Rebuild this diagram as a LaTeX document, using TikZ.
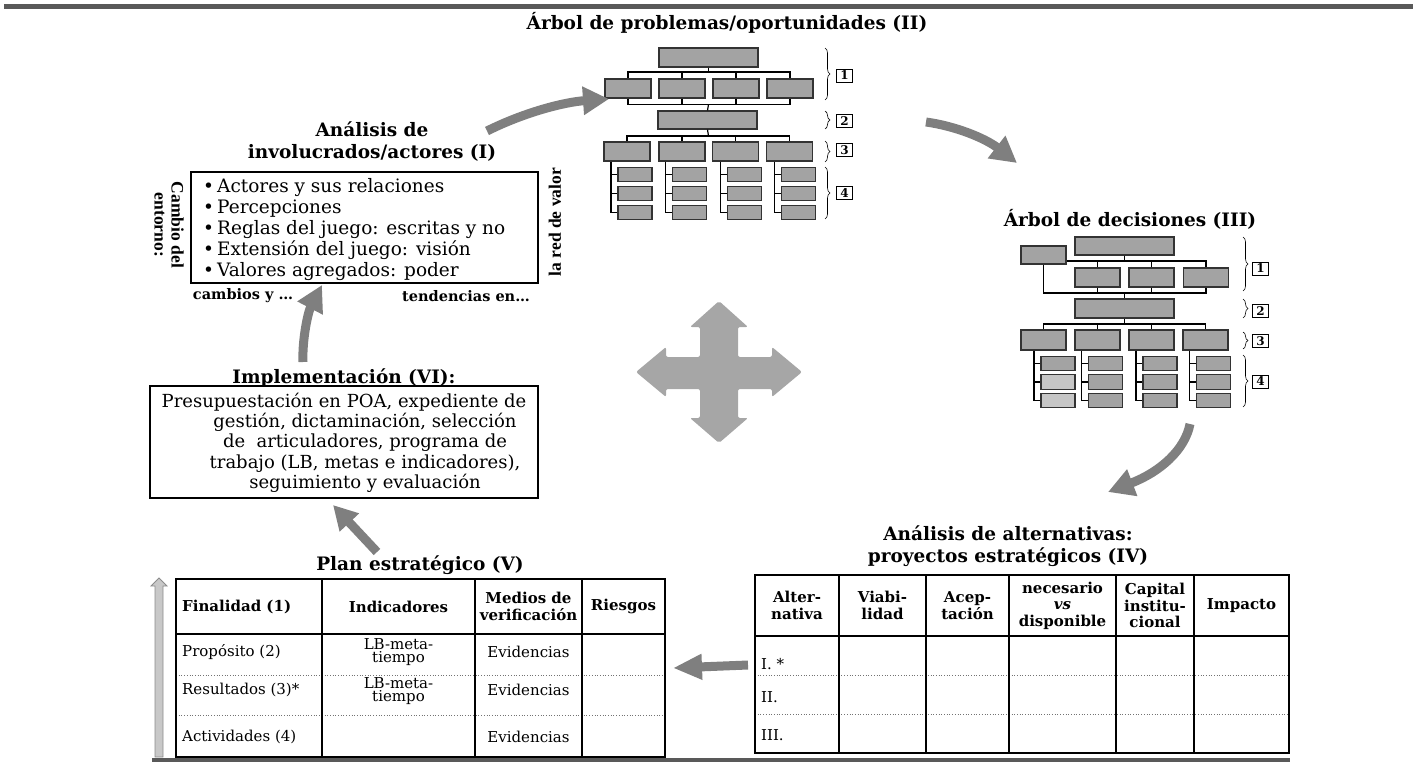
\documentclass[tikz,border=0pt]{standalone}
\usepackage{fontspec}
\setmainfont{DejaVu Serif}
\newfontfamily\rotfont{Liberation Serif}
\usetikzlibrary{arrows.meta,decorations.pathreplacing,calc}
\definecolor{boxgray}{HTML}{A3A3A3}
\definecolor{boxlight}{HTML}{C6C6C6}
\definecolor{edgegray}{HTML}{333333}
\definecolor{arrowgray}{HTML}{7F7F7F}
\definecolor{crossgray}{HTML}{A6A6A6}
\definecolor{rulegray}{HTML}{595959}
\definecolor{upfill}{HTML}{C8C8C8}
\definecolor{upline}{HTML}{8C8C8C}
\newcommand\fsz[2]{\fontsize{#1}{#2}\selectfont}

\begin{document}
\begin{tikzpicture}[x=1pt,y=-1pt,
  tbox/.style={draw=edgegray, line width=1.1pt, fill=boxgray, inner sep=0pt,
               minimum width=46pt, minimum height=19pt},
  wide/.style={tbox, minimum width=99pt},
  leaf/.style={tbox, minimum width=34pt, minimum height=14.5pt},
  link/.style={draw=black, line width=1.2pt},
  brc/.style={decorate, decoration={brace, amplitude=5pt}, line width=0.6pt},
  lvl/.style={draw, line width=0.8pt, inner sep=0pt, minimum width=16pt,
              minimum height=13pt, font=\fsz{12}{12}\bfseries},
  flow/.style={draw=arrowgray, line width=9pt, -{Triangle[length=26pt,width=27pt]}},
  ttl/.style={font=\fsz{18.5}{22}\bfseries, align=center, inner sep=0pt},
  body/.style={font=\fsz{18.5}{21}, inner sep=0pt},
  note/.style={font=\fsz{14.5}{16}\bfseries, inner sep=0pt},
  vlab/.style={font=\rotfont\fsz{17.5}{17}\bfseries, align=center, inner sep=0pt},
  cell/.style={font=\fsz{15}{13.5}, inner sep=0pt, align=center},
  hcell/.style={cell, font=\fsz{15}{16.5}\bfseries},
  frame/.style={draw=black, line width=1.1pt, inner sep=0pt}
]
\useasboundingbox (0,0) rectangle (1413,762);

% horizontal rules
\fill[rulegray] (4,4) rectangle (1413,9);
\fill[rulegray] (152,758) rectangle (1290,762);

% ---------------- problem / opportunity tree (II) ----------------
\node[ttl] (tII) at (727,23) {Árbol de problemas/oportunidades (II)};
\node[wide] (p0) at (708.5,57.5) {};
\foreach \n/\x in {a/628,b/682,c/736,d/790}
  \node[tbox] (p1\n) at (\x,88.5) {};
\coordinate (pb1) at (708.5,72);
\coordinate (pmid) at (708.5,104.5);
\coordinate (pb3) at (708.5,136);
\node[wide, minimum height=18pt] (p2) at (707.5,120) {};
\foreach \n/\x in {a/627,b/682,c/735.5,d/789.5}
  \node[tbox] (p3\n) at (\x,151.5) {};
\draw[link] (p0.south) -- (pb1);
\draw[link] (p1a.north) |- (pb1) -| (p1d.north);
\draw[link] (p1b.north) -- (p1b.north |- pb1);
\draw[link] (p1c.north) -- (p1c.north |- pb1);
% bus joining the first level to the second
\coordinate (pma) at (628,104.5);
\coordinate (pmd) at (790,104.5);
\draw[link] (p1a.south) -- (pma) -- (pmd) -- (p1d.south);
\draw[link] (p1b.south) -- (p1b.south |- pmid);
\draw[link] (p1c.south) -- (p1c.south |- pmid);
\draw[link] (pmid) -- (p2.north);
\draw[link] (p2.south) -- (pb3);
\draw[link] (p3a.north) |- (pb3) -| (p3d.north);
\draw[link] (p3b.north) -- (p3b.north |- pb3);
\draw[link] (p3c.north) -- (p3c.north |- pb3);
\foreach \c/\x in {a/635,b/689.5,c/744.5,d/798.5}{
  \node[leaf] (p4\c1) at (\x,174.5) {};
  \node[leaf] (p4\c2) at (\x,193.5) {};
  \node[leaf] (p4\c3) at (\x,212.5) {};
  \coordinate (pv\c) at (\x-24,174.5);
  \draw[link] (pv\c |- p3\c.south) |- (p4\c3.west);
  \draw[link] (pv\c) -- (p4\c1.west);
  \draw[link] (pv\c |- p4\c2.west) -- (p4\c2.west);
}
\draw[brc] (825,48) -- (825,100);
\draw[brc] (825,111) -- (825,129);
\draw[brc] (825,141) -- (825,162);
\draw[brc] (825,167) -- (825,219);
\node[lvl] (pl1) at (844.5,75.5) {1};
\node[lvl] (pl2) at (844.5,121) {2};
\node[lvl] (pl3) at (844.5,150) {3};
\node[lvl] (pl4) at (844.5,193) {4};

% ---------------- decision tree (III) ----------------
\node[ttl] (tIII) at (1130,219) {Árbol de decisiones (III)};
\node[wide, minimum height=18pt] (q0) at (1124.5,246) {};
\node[tbox, minimum width=45pt, minimum height=18pt] (qL) at (1043.5,255) {};
\foreach \n/\x in {a/1097.5,b/1151.5,c/1206}
  \node[tbox, minimum width=45pt] (q1\n) at (\x,277.5) {};
\coordinate (qb1) at (1124.5,261);
\coordinate (qb2) at (1124.5,293);
\coordinate (qb3) at (1124.5,324);
\node[wide] (q2) at (1124.5,308.5) {};
\foreach \n/\x in {a/1043.5,b/1097.5,c/1151.5,d/1205.5}
  \node[tbox, minimum width=45pt, minimum height=20pt] (q3\n) at (\x,340) {};
\draw[link] (q0.south) -- (qb1);
\draw[link] (qL.east |- qb1) -| (q1c.north);
\draw[link] (q1a.north) -- (q1a.north |- qb1);
\draw[link] (q1b.north) -- (q1b.north |- qb1);
\draw[link] (qL.south) |- (qb2) -| (q1c.south);
\draw[link] (q1a.south) -- (q1a.south |- qb2);
\draw[link] (q1b.south) -- (q1b.south |- qb2);
\draw[link] (qb2) -- (q2.north);
\draw[link] (q2.south) -- (qb3);
\draw[link] (q3a.north) |- (qb3) -| (q3d.north);
\draw[link] (q3b.north) -- (q3b.north |- qb3);
\draw[link] (q3c.north) -- (q3c.north |- qb3);
\foreach \c/\x/\f in {a/1058/boxlight,b/1105.5/boxgray,c/1160/boxgray,d/1213.5/boxgray}{
  \node[leaf] (q4\c1) at (\x,363.5) {};
  \node[leaf, fill=\f] (q4\c2) at (\x,382) {};
  \node[leaf, fill=\f] (q4\c3) at (\x,400.5) {};
  \coordinate (qv\c) at (\x-24,363.5);
  \draw[link] (qv\c |- q3\c.south) |- (q4\c3.west);
  \draw[link] (qv\c) -- (q4\c1.west);
  \draw[link] (qv\c |- q4\c2.west) -- (q4\c2.west);
}
\draw[brc] (1243,237) -- (1243,291);
\draw[brc] (1243,299) -- (1243,318);
\draw[brc] (1243,332) -- (1243,349);
\draw[brc] (1243,355) -- (1243,407);
\node[lvl] (ql1) at (1260.5,268.5) {1};
\node[lvl] (ql2) at (1260.5,311) {2};
\node[lvl] (ql3) at (1260.5,341) {3};
\node[lvl] (ql4) at (1260.5,381.5) {4};

% ---------------- stakeholder analysis (I) ----------------
\node[ttl] (tI) at (372,142) {Análisis de\\involucrados/actores (I)};
\node[frame, minimum width=347pt, minimum height=111pt] (boxI) at (364.5,227.5) {};
\node[body, anchor=north west, align=left] (bul) at (203,178)
  {•\,Actores y sus relaciones\\•\,Percepciones\\•\,Reglas del juego: escritas y no\\
   •\,Extensión del juego: visión\\•\,Valores agregados: poder};
\node[vlab, rotate=-90] (cambio) at (169,225) {Cambio del\\entorno:};
\node[vlab, rotate=90] (red) at (555,222) {la red de valor};
\node[note] (cyl) at (243,296) {cambios y …};
\node[note] (ten) at (466,296) {tendencias en…};

% ---------------- implementation (VI) ----------------
\node[ttl] (tVI) at (344,378) {Implementación (VI):};
\node[frame, minimum width=388pt, minimum height=112pt] (boxVI) at (344,442) {};
\node[font=\fsz{18}{20.3}, align=center, inner sep=0pt] (impl) at (365,442.5)
  {Presupuestación en POA, expediente de\hspace*{42pt}\\
   gestión, dictaminación, selección\\
   de~~articuladores, programa de\\
   trabajo (LB, metas e indicadores),\\
   seguimiento y evaluación};

% ---------------- central cross ----------------
\fill[crossgray, rounded corners=2pt]
  (719,301) -- (748,327) -- (738,327) -- (738,357) -- (772,357) -- (772,347)
  -- (802,372) -- (772,397) -- (772,389) -- (738,389) -- (738,418) -- (748,418)
  -- (719,443) -- (690,418) -- (700,418) -- (700,389) -- (666,389) -- (666,397)
  -- (636,372) -- (666,347) -- (666,357) -- (700,357) -- (700,327) -- (690,327)
  -- cycle;

% ---------------- strategic plan (V) ----------------
\node[ttl] (tV) at (420,565) {Plan estratégico (V)};
\filldraw[fill=upfill, draw=upline, line width=0.8pt]
  (155,757) -- (155,586) -- (151,586) -- (159,578) -- (167,586) -- (163,586)
  -- (163,757) -- cycle;
\draw[line width=1.1pt] (176,634) -- (665,634);
\draw[dotted, line width=0.7pt, black!55] (176,675) -- (665,675);
\draw[dotted, line width=0.7pt, black!55] (176,715) -- (665,715);
\foreach \x in {322,475,582}
  \draw[line width=1.5pt] (\x,579) -- (\x,757);
\draw[line width=1.8pt] (176,579) rectangle (665,757);
\node[hcell, anchor=west] (vh1) at (182,606.5) {Finalidad (1)};
\node[hcell] (vh2) at (398.5,606.5) {Indicadores};
\node[hcell] (vh3) at (528.5,606.5) {Medios de\\verificación};
\node[hcell] (vh4) at (623.5,606.5) {Riesgos};
\node[cell, anchor=west] (vr1) at (182,652) {Propósito (2)};
\node[cell] (vi1) at (398.5,652) {LB-meta-\\tiempo};
\node[cell] (ve1) at (528.5,652) {Evidencias};
\node[cell, anchor=west] (vr2) at (182,690) {Resultados (3)*};
\node[cell] (vi2) at (398.5,691) {LB-meta-\\tiempo};
\node[cell] (ve2) at (528.5,690) {Evidencias};
\node[cell, anchor=west] (vr3) at (182,737) {Actividades (4)};
\node[cell] (ve3) at (528.5,737) {Evidencias};

% ---------------- alternatives (IV) ----------------
\node[ttl] (tIV) at (1008,546.5) {Análisis de alternativas:\\proyectos estratégicos (IV)};
\draw[line width=1.1pt] (755,636) -- (1289,636);
\draw[dotted, line width=0.7pt, black!55] (755,675) -- (1289,675);
\draw[dotted, line width=0.7pt, black!55] (755,714) -- (1289,714);
\foreach \x in {839,926,1009,1116,1194}
  \draw[line width=1.5pt] (\x,575) -- (\x,753);
\draw[line width=1.8pt] (755,575) rectangle (1289,753);
\node[hcell] (ah1) at (797,605.5) {Alter-\\nativa};
\node[hcell] (ah2) at (882.5,605.5) {Viabi-\\lidad};
\node[hcell] (ah3) at (967.5,605.5) {Acep-\\tación};
\node[hcell] (ah4) at (1062.5,605.5) {necesario\\\textit{vs}\\disponible};
\node[hcell] (ah5) at (1155,605.5) {Capital\\institu-\\cional};
\node[hcell] (ah6) at (1241.5,605.5) {Impacto};
\node[cell, anchor=west] (ar1) at (761,664) {I. *};
\node[cell, anchor=west] (ar2) at (761,697) {II.};
\node[cell, anchor=west] (ar3) at (761,735) {III.};

% ---------------- cycle arrows ----------------
\coordinate (a1s) at (487,131);  \coordinate (a1e) at (609,99);
\coordinate (a2s) at (926,122);  \coordinate (a2e) at (1017,163);
\coordinate (a3s) at (1190,424); \coordinate (a3e) at (1108,492);
\coordinate (a4s) at (748,665);  \coordinate (a4e) at (673,668);
\coordinate (a5s) at (377,552);  \coordinate (a5e) at (333,505);
\coordinate (a6s) at (303,362);  \coordinate (a6e) at (322,285);
\draw[flow] (a1s) .. controls (525,112) and (565,102) .. (a1e);
\draw[flow] (a2s) .. controls (955,126) and (985,138) .. (a2e);
\draw[flow] (a3s) .. controls (1185,450) and (1160,472) .. (a3e);
\draw[flow, -{Triangle[length=29pt,width=24pt]}] (a4s) -- (a4e);
\draw[flow, -{Triangle[length=24pt,width=25pt]}] (a5s) -- (a5e);
\draw[flow] (a6s) .. controls (302,340) and (308,312) .. (a6e);
\end{tikzpicture}
\end{document}
